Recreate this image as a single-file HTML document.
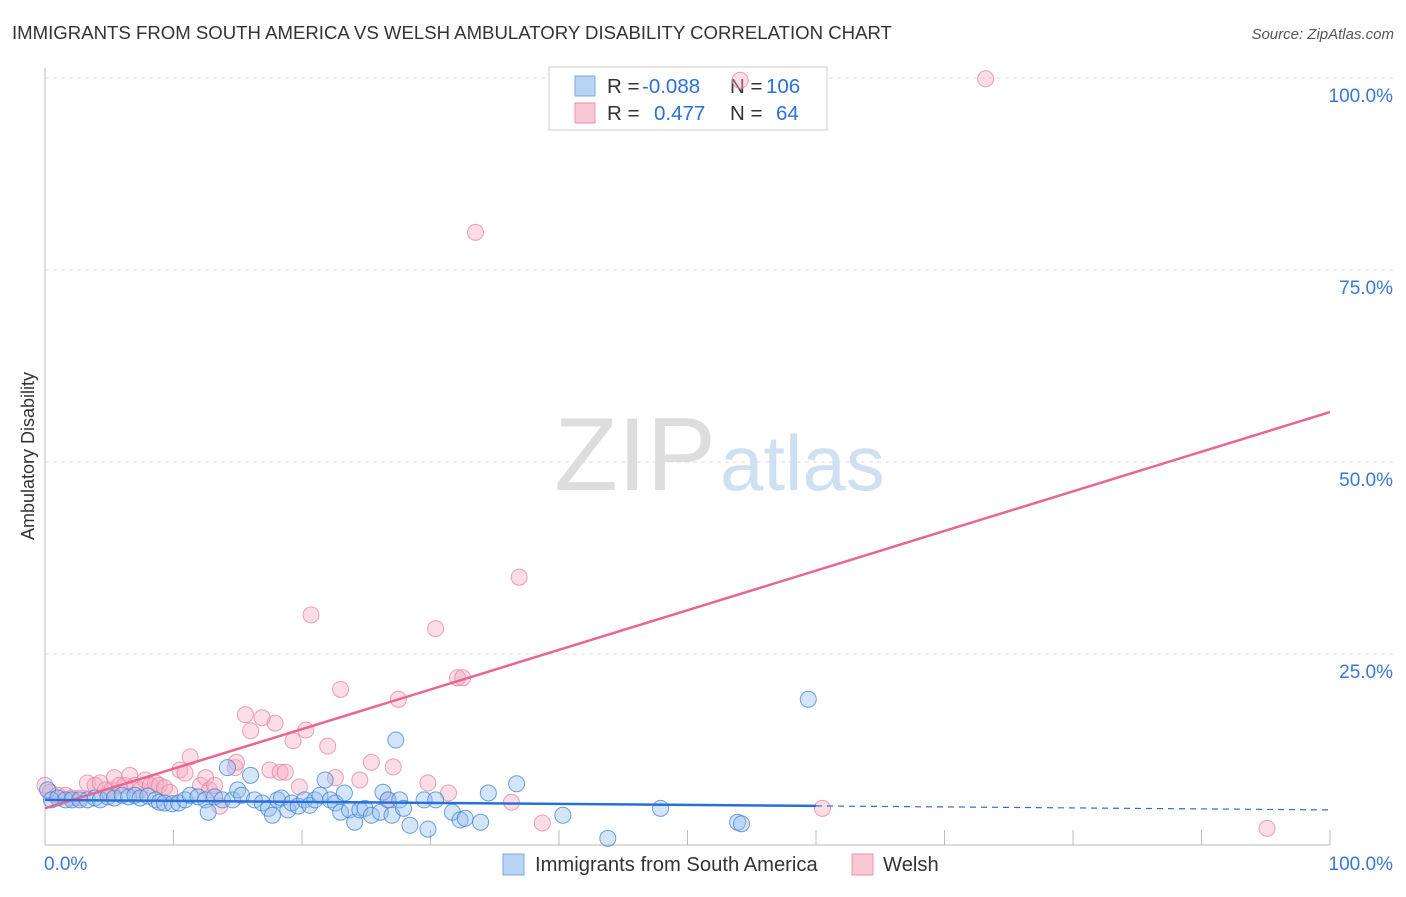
<!DOCTYPE html>
<html><head><meta charset="utf-8"><style>
body{margin:0;background:#fff;font-family:"Liberation Sans",sans-serif;}
svg text{font-family:"Liberation Sans",sans-serif;}
</style></head><body>
<svg width="1406" height="892">
<text x="12" y="39" font-size="18.6" fill="#333">IMMIGRANTS FROM SOUTH AMERICA VS WELSH AMBULATORY DISABILITY CORRELATION CHART</text>
<text x="1394" y="39" font-size="15" fill="#555" font-style="italic" text-anchor="end">Source: ZipAtlas.com</text>
<text x="34" y="456" font-size="18" fill="#333" text-anchor="middle" transform="rotate(-90 34 456)">Ambulatory Disability</text>
<g id="grid"></g>
<text x="716" y="490" font-size="104" fill="#ddd" text-anchor="end" font-family="Liberation Serif">ZIP</text>
<text x="720" y="490" font-size="78" fill="#cfe0f3">atlas</text>
<g>
<rect x="549" y="67" width="278" height="63" fill="#fff" stroke="#ccc"/>
<rect x="575" y="76" width="20" height="20" fill="#b8d3f3" stroke="#7aa8e0"/>
<text x="607" y="93" font-size="20.5" fill="#333">R =</text><text x="642" y="93" font-size="20.5" fill="#2e6fd6">-0.088</text>
<text x="730" y="93" font-size="20.5" fill="#333">N =</text><text x="766" y="93" font-size="20.5" fill="#2e6fd6">106</text>
<rect x="575" y="103" width="20" height="20" fill="#f9c6d4" stroke="#ee93ad"/>
<text x="607" y="120" font-size="20.5" fill="#333">R =</text><text x="654" y="120" font-size="20.5" fill="#2e6fd6">0.477</text>
<text x="730" y="120" font-size="20.5" fill="#333">N =</text><text x="776" y="120" font-size="20.5" fill="#2e6fd6">64</text>
</g>
<g id="pts"></g>
<g id="lines"></g>
<text x="44" y="870" font-size="19" fill="#3a78d6">0.0%</text>
<text x="1393" y="870" font-size="19" fill="#3a78d6" text-anchor="end">100.0%</text>
<g>
<rect x="503" y="854" width="21" height="21" fill="#b8d3f3" stroke="#7aa8e0"/>
<text x="535" y="871" font-size="20.2" fill="#333">Immigrants from South America</text>
<rect x="852" y="854" width="21" height="21" fill="#f9c6d4" stroke="#ee93ad"/>
<text x="883" y="871" font-size="20.2" fill="#333">Welsh</text>
</g>
</svg>
<script>
const yTicks=[25,50,75,100];
const yTickLabels=["25.0%","50.0%","75.0%","100.0%"];
const blueX=[0.2,0.5,1.0,1.6,2.1,2.7,3.3,3.9,4.3,4.9,5.4,6.0,6.5,7.0,7.4,8.0,8.6,8.9,9.3,9.9,10.4,10.9,11.3,11.9,12.5,12.7,13.2,13.8,14.2,14.6,15.0,15.3,16.0,16.3,16.9,17.4,17.7,18.1,18.4,18.9,19.2,19.7,20.2,20.6,21.0,21.4,21.8,22.2,22.6,23.0,23.3,23.7,24.1,24.5,24.9,25.4,26.1,26.3,26.7,27.0,27.3,27.6,27.9,28.4,29.5,29.8,30.4,31.7,32.3,32.7,33.9,34.5,36.7,40.3,43.8,47.9,53.9,54.2,59.4];
const blueY=[7.3,6.0,6.25,6.0,6.0,6.0,6.0,6.25,6.0,6.4,6.25,6.6,6.4,6.6,6.25,6.5,6.0,5.7,5.6,5.5,5.6,6.0,6.6,6.4,6.0,4.4,6.4,6.0,10.2,6.0,7.3,6.6,9.2,6.0,5.6,4.9,4.0,6.0,6.25,4.7,5.6,5.2,6.0,5.3,6.0,6.6,8.6,6.0,5.6,4.4,6.9,4.7,3.1,4.7,4.9,4.0,4.4,7.0,6.0,4.0,13.8,6.0,4.9,2.7,6.0,2.2,6.0,4.4,3.4,3.6,3.1,6.9,8.1,4.0,1.0,4.9,3.1,2.9,19.1];
const pinkX=[0,0.4,1.0,1.6,2.1,2.7,3.3,3.9,4.3,4.7,5.2,5.4,5.8,6.2,6.6,7.0,7.4,7.8,8.2,8.6,8.9,9.3,9.7,10.5,10.9,11.3,12.1,12.5,12.8,13.2,13.6,14.8,14.9,15.6,16.0,16.9,17.5,17.9,18.3,18.7,19.3,19.8,20.3,20.7,22.0,22.6,23.0,24.5,25.4,26.7,27.1,27.5,29.8,30.4,31.4,32.1,32.5,33.5,36.3,36.9,38.7,54.1,60.5,73.2,95.1];
const pinkY=[7.9,7.0,6.6,6.6,6.25,6.25,8.2,7.9,8.2,7.3,7.3,8.9,7.9,7.9,9.2,7.9,7.3,8.6,7.9,8.2,7.9,7.6,7.0,9.9,9.5,11.6,7.9,8.9,7.3,7.9,5.2,10.2,10.9,17.1,15.0,16.7,9.9,16.0,9.6,9.6,13.7,7.7,15.1,30.1,13.0,8.9,20.4,8.6,10.9,6.0,10.3,19.1,8.2,28.3,6.9,21.9,21.9,79.9,5.7,35.0,3.0,99.7,4.9,99.9,2.3];
const blueFit=[6.0,4.7];
const pinkFit=[4.9,56.5];
const X0=45,X1=1330,Y0=846,Y1=78;
const sx=v=>X0+(X1-X0)*v/100, sy=v=>Y0-(Y0-Y1)*v/100;
const NS="http://www.w3.org/2000/svg";
function mk(tag,attrs,parent){const e=document.createElementNS(NS,tag);for(const k in attrs)e.setAttribute(k,attrs[k]);parent.appendChild(e);return e;}
const grid=document.getElementById('grid');
yTicks.forEach((t,i)=>{
 const l=mk('line',{x1:X0,x2:1395,y1:sy(t),y2:sy(t),stroke:'#ddd','stroke-dasharray':'4 4'},grid);
 
 
 const tx=mk('text',{x:1393,y:sy(t)+24,'font-size':19,fill:'#3a78d6','text-anchor':'end'},grid);
 tx.textContent=yTickLabels[i];
 
 
});
const ax=mk('line',{x1:X0,x2:X1,y1:845,y2:845,stroke:'#bbb'},grid);


const ay=mk('line',{x1:X0,x2:X0,y1:68,y2:845,stroke:'#bbb'},grid);


for(let i=1;i<=10;i++){const tk=mk('line',{x1:sx(i*10),x2:sx(i*10),y1:830,y2:845,stroke:'#bbb'},grid);
 
 }
const pts=document.getElementById('pts');
pinkX.forEach((x,i)=>{const c=mk('circle',{cx:sx(x),cy:sy(pinkY[i]),r:8,fill:'rgba(246,170,192,0.4)',stroke:'rgba(232,130,160,0.75)','stroke-width':1},pts);
 
 });
blueX.forEach((x,i)=>{const c=mk('circle',{cx:sx(x),cy:sy(blueY[i]),r:8,fill:'rgba(150,190,238,0.4)',stroke:'rgba(60,130,215,0.75)','stroke-width':1},pts);
 
 });
const lines=document.getElementById('lines');
const pl=mk('line',{x1:sx(0),y1:sy(pinkFit[0]),x2:sx(100),y2:sy(pinkFit[1]),stroke:'#e8668f','stroke-width':2.5},lines);


const bm=blueFit[0]+(blueFit[1]-blueFit[0])*0.6;
const bl=mk('line',{x1:sx(0),y1:sy(blueFit[0]),x2:sx(60),y2:sy(bm),stroke:'#2a6fd6','stroke-width':2.5},lines);


const bd=mk('line',{x1:sx(60),y1:sy(bm),x2:sx(100),y2:sy(blueFit[1]),stroke:'#2a6fd6','stroke-width':1.2,'stroke-dasharray':'6 5'},lines);


</script>
</body></html>
